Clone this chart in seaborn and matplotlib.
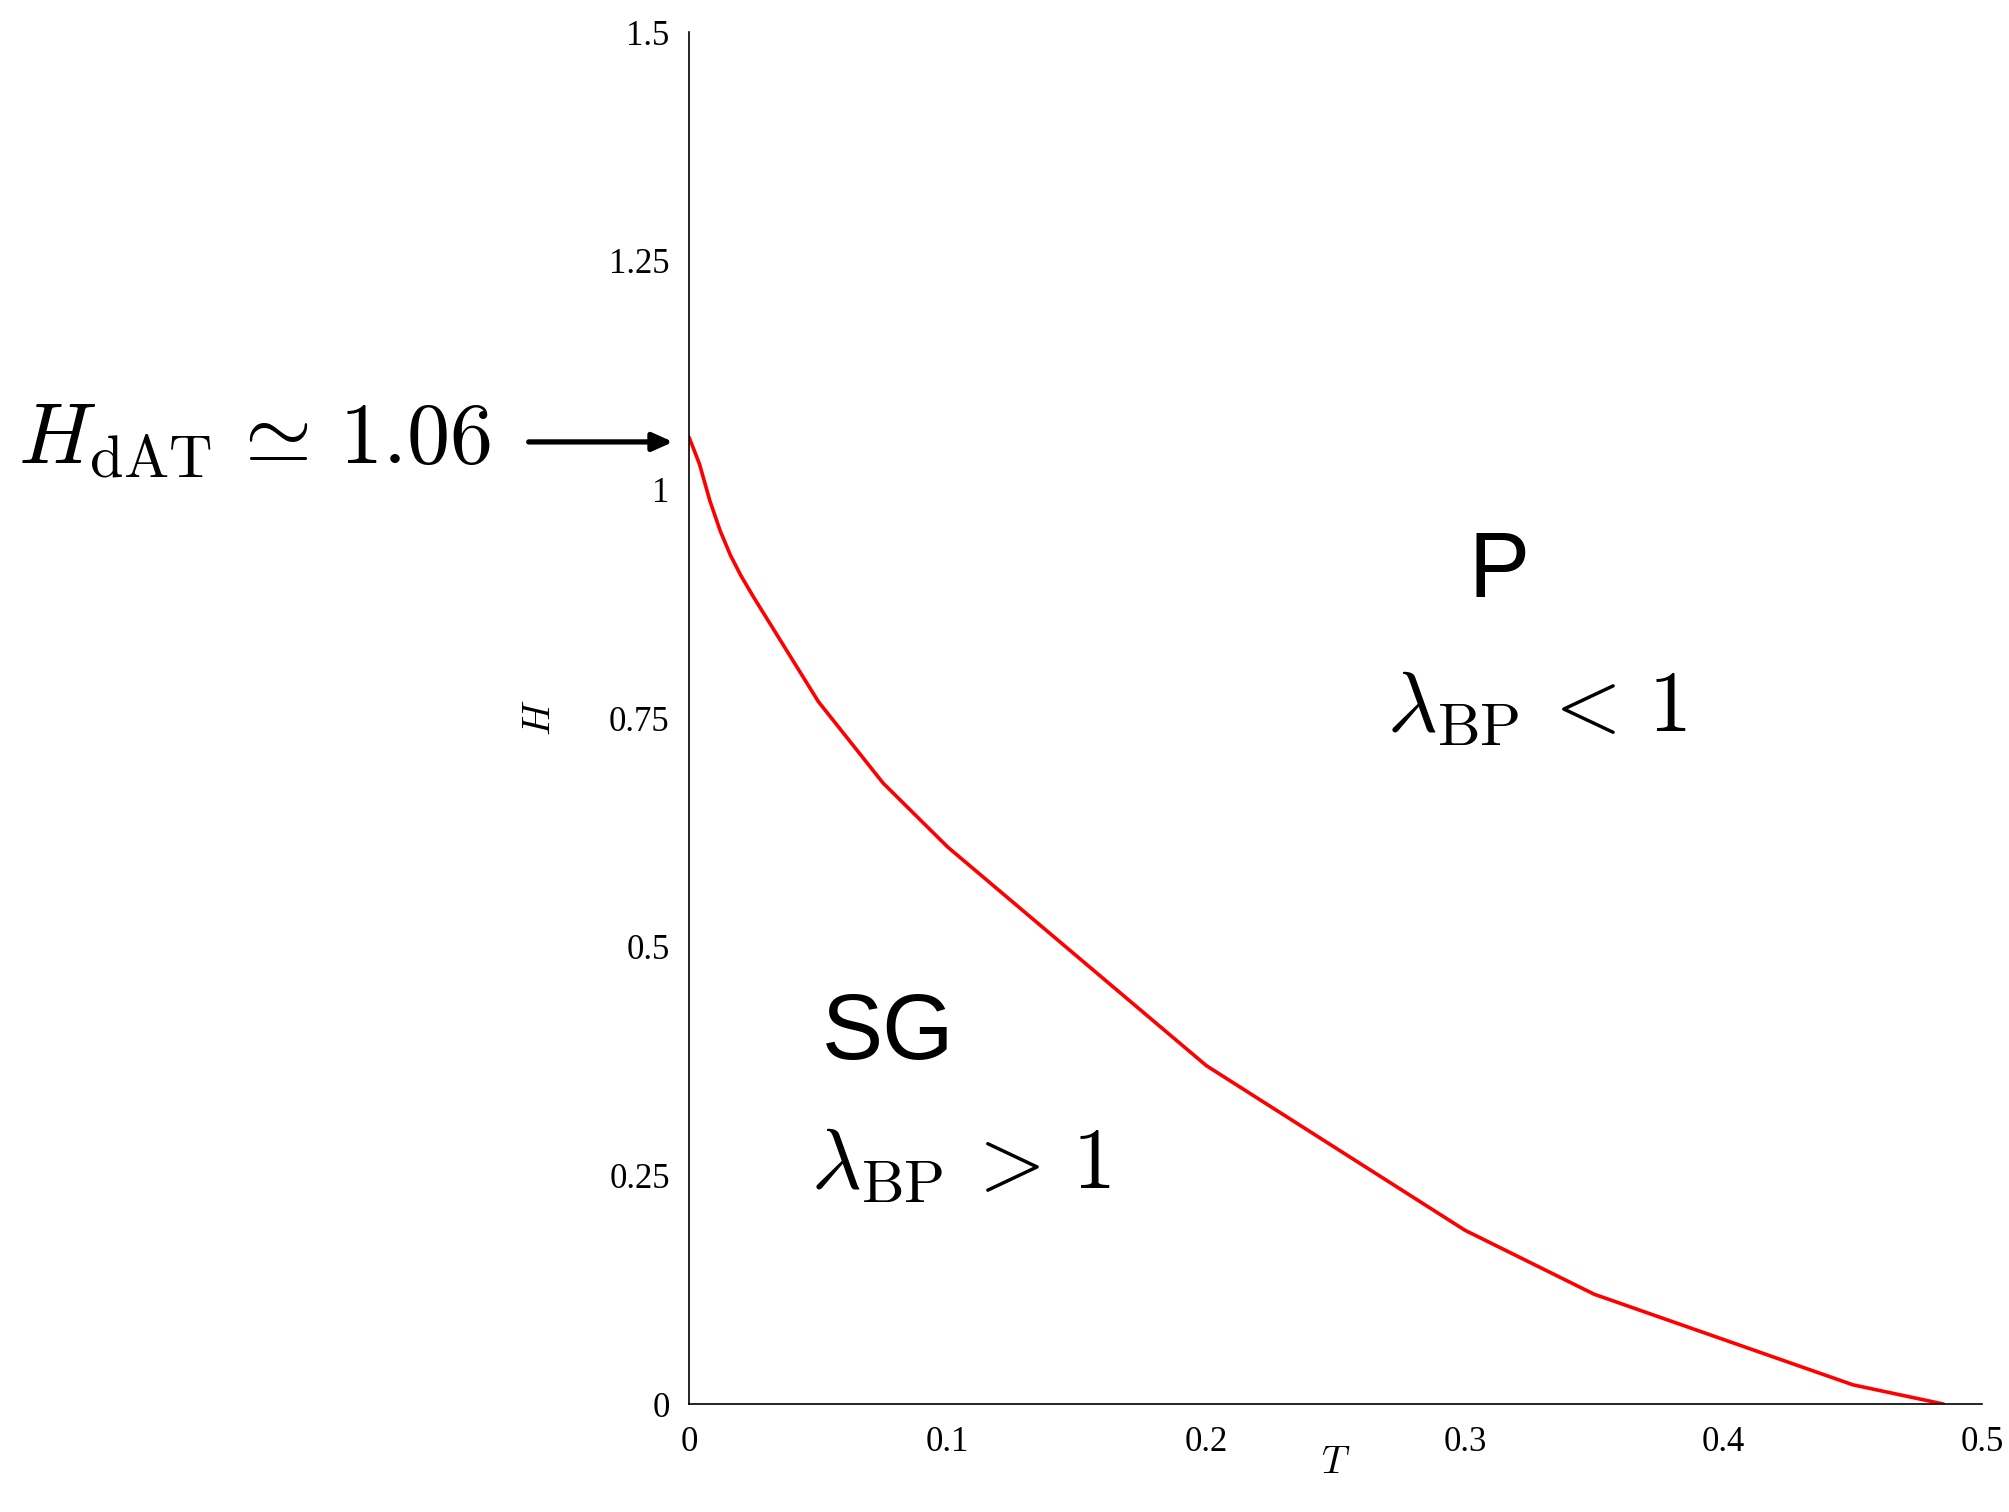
import matplotlib
matplotlib.use("Agg")
import matplotlib.pyplot as plt
import seaborn as sns
import pandas as pd

# de Almeida-Thouless line from belief propagation stability
T_vals = [0.0, 0.004, 0.008, 0.012, 0.016, 0.02, 0.025, 0.05, 0.075, 0.1, 0.2, 0.3, 0.35, 0.45, 0.485]
H_vals = [1.057, 1.028, 0.988, 0.955, 0.928, 0.906, 0.882, 0.768, 0.679, 0.609, 0.370, 0.190, 0.120, 0.021, 0.0]
x_ticks = [0, 0.1, 0.2, 0.3, 0.4, 0.5]
x_ticklabels = ["0", "0.1", "0.2", "0.3", "0.4", "0.5"]
y_ticks = [0, 0.25, 0.5, 0.75, 1.0, 1.25, 1.5]
y_ticklabels = ["0", "0.25", "0.5", "0.75", "1", "1.25", "1.5"]
H_dAT = 1.06

sns.set_theme(style="white")
plt.rcParams["font.family"] = ["Liberation Serif", "DejaVu Serif"]
plt.rcParams["mathtext.fontset"] = "cm"
plt.rcParams["text.color"] = "black"
plt.rcParams["axes.labelcolor"] = "black"

fig = plt.figure(figsize=(20.09, 15.12), dpi=100)
ax = fig.add_axes([0.343, 0.0714, 0.6437, 0.9073])

df = pd.DataFrame({"T": T_vals, "H": H_vals})
sns.lineplot(data=df, x="T", y="H", ax=ax, color="#ff0000", linewidth=2.6, sort=False)

ax.set_xlim(0, 0.5)
ax.set_ylim(0, 1.5)
ax.set_xticks(x_ticks)
ax.set_xticklabels(x_ticklabels)
ax.set_yticks(y_ticks)
ax.set_yticklabels(y_ticklabels)
ax.tick_params(direction="in", length=8, width=1.0, color="#555555", labelsize=25,
               labelcolor="black")
ax.tick_params(axis="y", pad=14)
ax.tick_params(axis="x", pad=16)
for side in ["top", "right"]:
    ax.spines[side].set_visible(False)
for side in ["left", "bottom"]:
    ax.spines[side].set_color("black")
    ax.spines[side].set_linewidth(1.2)

ax.set_xlabel(r"$T$", fontsize=28, labelpad=-10)
ax.set_ylabel(r"$H$", fontsize=28, labelpad=36)

# Phase labels
ax.text(0.313, 0.909, "P", fontsize=66, family=["Liberation Sans", "DejaVu Sans"],
        ha="center", va="center")
ax.text(0.328, 0.758, r"$\lambda_{\rm BP}\, <\, 1$", fontsize=62, ha="center", va="center")
ax.text(0.077, 0.403, "SG", fontsize=66, family=["Liberation Sans", "DejaVu Sans"],
        ha="center", va="center")
ax.text(0.105, 0.258, r"$\lambda_{\rm BP}\, >\, 1$", fontsize=62, ha="center", va="center")

# Zero-temperature endpoint of the line
ax.annotate("", xy=(-0.0062, 1.052), xytext=(-0.062, 1.052), xycoords="data",
            arrowprops=dict(arrowstyle="-|>,head_length=1.0,head_width=0.45", color="black",
                            lw=3.8, shrinkA=0, shrinkB=0),
            annotation_clip=False)
fig.text(254 / 2009, 1 - 442 / 1512, r"$H_{\rm dAT}\, \simeq\, %.2f$" % H_dAT, fontsize=62,
         ha="center", va="center")

fig.savefig("out.png", dpi=100)
